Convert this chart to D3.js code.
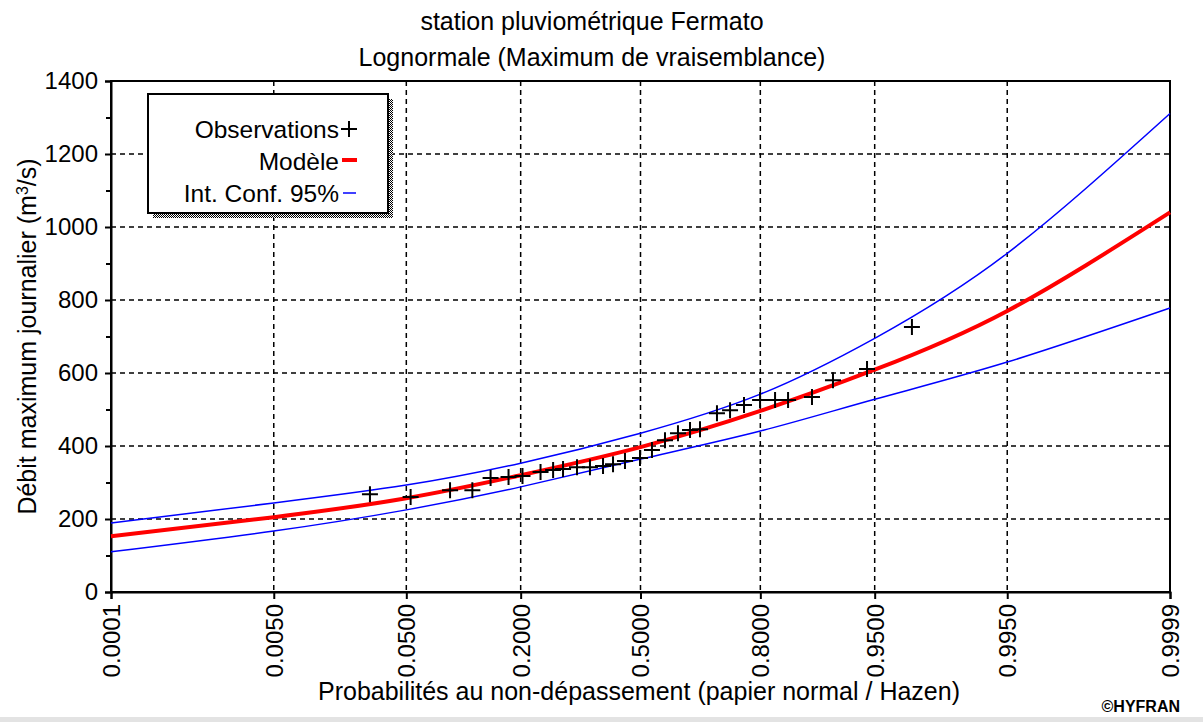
<!DOCTYPE html>
<html>
<head>
<meta charset="utf-8">
<script src="https://cdn.jsdelivr.net/npm/d3@7"></script>
<style>
    body { margin: 0; background: #fff; }
    svg { display: block; font-family: "Liberation Sans", Arial, sans-serif; }
</style>
</head>
<body>
<svg id="chart" width="1203" height="722"></svg>
<script>
'use strict';

// probabilites au non-depassement (axe x) et etiquettes
var probTicks = [0.0001, 0.005, 0.05, 0.2, 0.5, 0.8, 0.95, 0.995, 0.9999];
var probTickLabels = ['0.0001', '0.0050', '0.0500', '0.2000', '0.5000', '0.8000', '0.9500', '0.9950', '0.9999'];
var debitTicks = [0, 200, 400, 600, 800, 1000, 1200, 1400];
var debitMinorTicks = [100, 300, 500, 700, 900, 1100, 1300];

// observations (probabilite Hazen, debit m3/s)
var obsProb = [0.0287, 0.0532, 0.0905, 0.1188, 0.1462, 0.1770, 0.2036, 0.2413, 0.2697, 0.2932,
    0.3278, 0.3613, 0.3962, 0.4235, 0.4566, 0.4986, 0.5321, 0.5683, 0.6038, 0.6360,
    0.6620, 0.7044, 0.7353, 0.7664, 0.7995, 0.8277, 0.8500, 0.8858, 0.9118, 0.9442, 0.9717];
var obsDebit = [268, 260, 279, 279, 312, 315, 318, 329, 334, 337,
    342, 342, 345, 350, 359, 367, 389, 416, 435, 444,
    446, 490, 498, 512, 526, 526, 526, 534, 580, 611, 726];

// modele lognormal et intervalle de confiance 95%
var curveProb = [0.0001, 0.005, 0.05, 0.2, 0.5, 0.8, 0.95, 0.995, 0.9999];
var modele = [153, 205, 257, 320, 397, 496, 609, 770, 1040];
var confHaut = [189, 244, 293, 353, 435, 542, 695, 928, 1311];
var confBas = [110, 167, 225, 288, 364, 441, 528, 630, 778];

// quantile de la loi normale (Acklam)
function probit (p) {
    var a = [-3.969683028665376e+01, 2.209460984245205e+02, -2.759285104469687e+02,
        1.383577518672690e+02, -3.066479806614716e+01, 2.506628277459239e+00];
    var b = [-5.447609879822406e+01, 1.615858368580409e+02, -1.556989798598866e+02,
        6.680131188771972e+01, -1.328068155288572e+01];
    var c = [-7.784894002430293e-03, -3.223964580411365e-01, -2.400758277161838e+00,
        -2.549732539343734e+00, 4.374664141464968e+00, 2.938163982698783e+00];
    var d = [7.784695709041462e-03, 3.224671290700398e-01, 2.445134137142996e+00,
        3.754408661907416e+00];
    var plow = 0.02425, q, r;

    if (p < plow) {
        q = Math.sqrt(-2 * Math.log(p));
        return (((((c[0] * q + c[1]) * q + c[2]) * q + c[3]) * q + c[4]) * q + c[5]) /
            ((((d[0] * q + d[1]) * q + d[2]) * q + d[3]) * q + 1);
    }
    if (p > 1 - plow) {
        q = Math.sqrt(-2 * Math.log(1 - p));
        return -(((((c[0] * q + c[1]) * q + c[2]) * q + c[3]) * q + c[4]) * q + c[5]) /
            ((((d[0] * q + d[1]) * q + d[2]) * q + d[3]) * q + 1);
    }
    q = p - 0.5;
    r = q * q;
    return (((((a[0] * r + a[1]) * r + a[2]) * r + a[3]) * r + a[4]) * r + a[5]) * q /
        (((((b[0] * r + b[1]) * r + b[2]) * r + b[3]) * r + b[4]) * r + 1);
}

function draw () {
    var svg = d3.select('#chart');
    var left = 111, right = 1170, top = 81, bottom = 592;

    var zScale = d3.scaleLinear()
        .domain([probit(0.0001), probit(0.9999)])
        .range([left, right]);
    var x = function (p) { return zScale(probit(p)); };
    var y = d3.scaleLinear().domain([0, 1400]).range([bottom, top]);

    var defs = svg.append('defs');
    var pat = defs.append('pattern')
        .attr('id', 'trame')
        .attr('width', 2)
        .attr('height', 2)
        .attr('patternUnits', 'userSpaceOnUse');
    pat.append('rect').attr('width', 2).attr('height', 2).attr('fill', '#fff');
    pat.append('rect').attr('width', 1).attr('height', 1).attr('fill', '#000');
    pat.append('rect').attr('x', 1).attr('y', 1).attr('width', 1).attr('height', 1).attr('fill', '#000');

    // bande grise du bas
    svg.append('rect')
        .attr('x', 0).attr('y', 717)
        .attr('width', 1203).attr('height', 5)
        .attr('fill', '#e3e3e3');

    // titres
    svg.append('text')
        .attr('x', 592).attr('y', 30)
        .attr('text-anchor', 'middle')
        .style('font-size', '25px')
        .text('station pluviométrique Fermato');
    svg.append('text')
        .attr('x', 592).attr('y', 66)
        .attr('text-anchor', 'middle')
        .style('font-size', '25px')
        .text('Lognormale (Maximum de vraisemblance)');

    // grille
    var grid = svg.append('g')
        .attr('stroke', '#000')
        .attr('stroke-width', 1.5)
        .attr('stroke-dasharray', '5,4');
    grid.selectAll('line.v')
        .data(probTicks.slice(1, -1))
        .enter().append('line')
            .attr('class', 'v')
            .attr('x1', x).attr('x2', x)
            .attr('y1', top).attr('y2', bottom);
    grid.selectAll('line.h')
        .data(debitTicks.slice(1, -1))
        .enter().append('line')
            .attr('class', 'h')
            .attr('x1', left).attr('x2', right)
            .attr('y1', y).attr('y2', y);

    // axe y
    var yAxis = svg.append('g')
        .attr('transform', 'translate(' + left + ',0)')
        .call(d3.axisLeft(y).tickValues(debitTicks).tickSize(6).tickPadding(7).tickFormat(d3.format('d')));
    svg.append('g')
        .attr('transform', 'translate(' + left + ',0)')
        .call(d3.axisLeft(y).tickValues(debitMinorTicks).tickSize(5).tickFormat(''))
        .call(function (g) { g.select('.domain').remove(); });
    yAxis.selectAll('text')
        .style('font-size', '24px')
        .attr('fill', '#000')
        .attr('font-family', null);

    // axe x
    var xAxis = svg.append('g')
        .attr('transform', 'translate(0,' + bottom + ')')
        .call(d3.axisBottom(zScale)
            .tickValues(probTicks.map(probit))
            .tickSize(7)
            .tickFormat(function (d, i) { return probTickLabels[i]; }));
    xAxis.selectAll('text')
        .style('font-size', '24px')
        .attr('fill', '#000')
        .attr('font-family', null)
        .attr('transform', 'rotate(-90)')
        .attr('text-anchor', 'end')
        .attr('x', -12)
        .attr('y', 0)
        .attr('dy', '0.35em');

    svg.selectAll('.tick line').attr('stroke', '#000').attr('stroke-width', 2);
    svg.selectAll('.domain').attr('stroke', '#000').attr('stroke-width', 2);

    // cadre
    svg.append('rect')
        .attr('x', left).attr('y', top)
        .attr('width', right - left).attr('height', bottom - top)
        .attr('fill', 'none')
        .attr('stroke', '#000')
        .attr('stroke-width', 2);

    // courbes
    var line = d3.line()
        .x(function (d) { return x(d[0]); })
        .y(function (d) { return y(d[1]); })
        .curve(d3.curveNatural);
    var series = [
        { values: confHaut, color: '#0000ff', width: 1.5 },
        { values: confBas, color: '#0000ff', width: 1.5 },
        { values: modele, color: '#ff0000', width: 4 }
    ];
    svg.append('g').selectAll('path')
        .data(series)
        .enter().append('path')
            .attr('fill', 'none')
            .attr('stroke', function (d) { return d.color; })
            .attr('stroke-width', function (d) { return d.width; })
            .attr('d', function (d) {
                return line(d.values.map(function (v, i) { return [curveProb[i], v]; }));
            });

    // observations
    var cross = 'M-8,0H8M0,-8V8';
    svg.append('g').selectAll('path')
        .data(obsProb.map(function (p, i) { return [p, obsDebit[i]]; }))
        .enter().append('path')
            .attr('transform', function (d) {
                return 'translate(' + x(d[0]) + ',' + y(d[1]) + ')';
            })
            .attr('d', cross)
            .attr('stroke', '#000')
            .attr('stroke-width', 2)
            .attr('fill', 'none');

    // legende
    var legend = svg.append('g');
    legend.append('rect')
        .attr('x', 153).attr('y', 99)
        .attr('width', 240).attr('height', 119)
        .attr('fill', 'url(#trame)');
    legend.append('rect')
        .attr('x', 148).attr('y', 94)
        .attr('width', 240).attr('height', 119)
        .attr('fill', '#fff')
        .attr('stroke', '#000')
        .attr('stroke-width', 2);
    var legendItems = [
        { label: 'Observations', y: 138 },
        { label: 'Modèle', y: 170 },
        { label: 'Int. Conf. 95%', y: 202 }
    ];
    legend.selectAll('text')
        .data(legendItems)
        .enter().append('text')
            .attr('x', 339)
            .attr('y', function (d) { return d.y; })
            .attr('text-anchor', 'end')
            .style('font-size', '24.5px')
            .text(function (d) { return d.label; });
    legend.append('path')
        .attr('transform', 'translate(349,129)')
        .attr('d', 'M-8,0H8M0,-8V8')
        .attr('stroke', '#000')
        .attr('stroke-width', 2);
    legend.append('line')
        .attr('x1', 342).attr('x2', 357)
        .attr('y1', 160).attr('y2', 160)
        .attr('stroke', '#ff0000')
        .attr('stroke-width', 4);
    legend.append('line')
        .attr('x1', 343).attr('x2', 356)
        .attr('y1', 193).attr('y2', 193)
        .attr('stroke', '#0000ff')
        .attr('stroke-width', 1.5);

    // titres des axes
    svg.append('text')
        .attr('x', 639).attr('y', 700)
        .attr('text-anchor', 'middle')
        .style('font-size', '25px')
        .text('Probabilités au non-dépassement (papier normal / Hazen)');
    svg.append('text')
        .attr('transform', 'translate(36,' + ((top + bottom) / 2) + ') rotate(-90)')
        .attr('text-anchor', 'middle')
        .style('font-size', '25px')
        .html('Débit maximum journalier (m<tspan dy="-8" font-size="16px">3</tspan><tspan dy="8">/s)</tspan>');

    svg.append('text')
        .attr('x', 1180).attr('y', 712)
        .attr('text-anchor', 'end')
        .style('font-size', '16px')
        .style('font-weight', 'bold')
        .text('©HYFRAN');
}

draw();
</script>
</body>
</html>
